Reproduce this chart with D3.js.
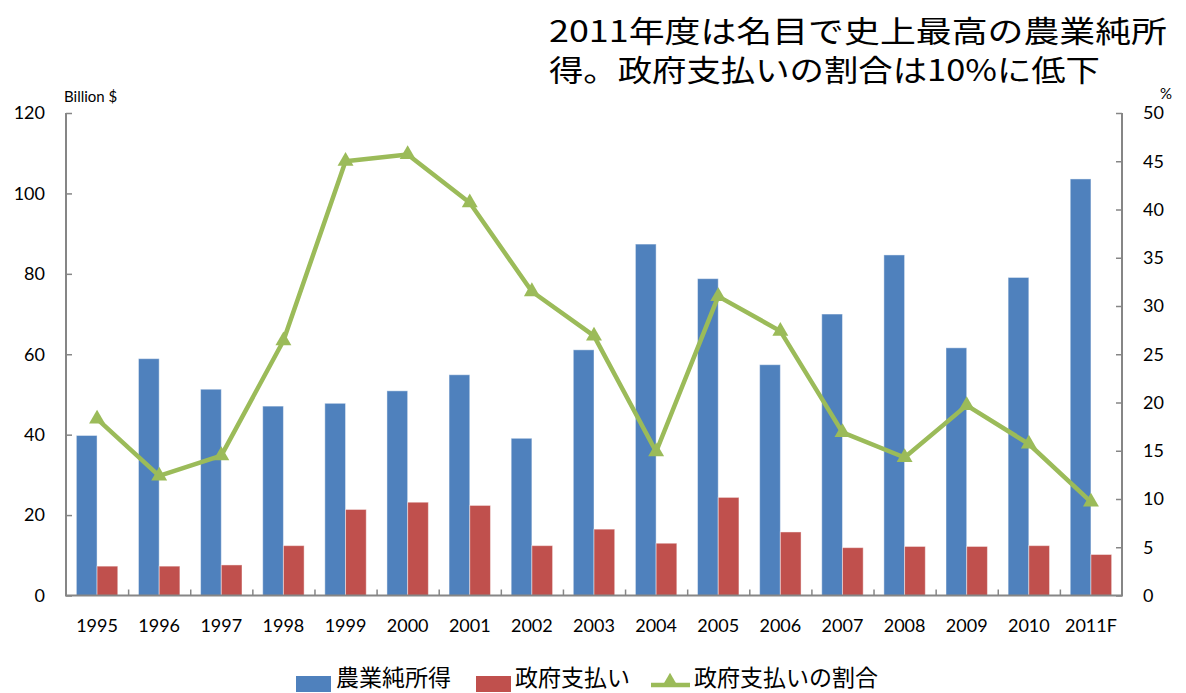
<!DOCTYPE html>
<html>
<head>
<meta charset="utf-8">
<script src="https://cdn.jsdelivr.net/npm/d3@7"></script>
<style>
  body { margin: 0; background: #fff; }
  text { font-family: Lato, "Noto Sans CJK JP", sans-serif; fill: #000; }
  .jp { font-family: "Noto Sans CJK JP", sans-serif; }
</style>
</head>
<body>
<script>
const width = 1186;
const height = 693;

// data
const years = ["1995", "1996", "1997", "1998", "1999", "2000", "2001", "2002", "2003",
  "2004", "2005", "2006", "2007", "2008", "2009", "2010", "2011F"];
const farmIncome = [39.8, 58.9, 51.3, 47.1, 47.8, 50.9, 54.9, 39.1, 61.1,
  87.4, 78.8, 57.4, 70.0, 84.7, 61.6, 79.1, 103.6];
const govPayments = [7.3, 7.3, 7.6, 12.4, 21.4, 23.2, 22.4, 12.4, 16.5,
  13.0, 24.4, 15.8, 11.9, 12.2, 12.2, 12.4, 10.2];
const paymentShare = [18.3, 12.4, 14.5, 26.4, 45.0, 45.7, 40.7, 31.5, 26.9,
  14.9, 31.0, 27.4, 16.9, 14.3, 19.7, 15.7, 9.7];
const leftTicks = [0, 20, 40, 60, 80, 100, 120];
const rightTicks = [0, 5, 10, 15, 20, 25, 30, 35, 40, 45, 50];
const seriesNames = ["農業純所得", "政府支払い", "政府支払いの割合"];
const titleLines = ["2011年度は名目で史上最高の農業純所", "得。政府支払いの割合は10%に低下"];
const colors = ["#4F81BD", "#C0504D", "#9BBB59"];

const plotLeft = 66, plotRight = 1122, plotTop = 113, plotBottom = 595.5;

let svg = d3
    .select("body")
    .append("svg")
    .attr("width", width)
    .attr("height", height)

const x = d3.scaleBand().domain(years).range([plotLeft, plotRight]).padding(0);
const sub = d3.scaleBand().domain([0, 1]).range([0, x.bandwidth()]).paddingOuter(0.5);
const yL = d3.scaleLinear().domain([0, 120]).range([plotBottom, plotTop]);
const yR = d3.scaleLinear().domain([0, 50]).range([plotBottom, plotTop]);

// bars
[farmIncome, govPayments].forEach((vals, s) => {
    svg.append("g")
        .selectAll("rect")
        .data(vals)
        .join("rect")
        .attr("x", (d, i) => x(years[i]) + sub(s))
        .attr("width", sub.bandwidth())
        .attr("y", d => yL(d))
        .attr("height", d => yL(0) - yL(d))
        .attr("fill", colors[s])
        .attr("stroke", "rgba(255,255,255,0.45)")
        .attr("stroke-width", 1)
})

// axes
const axisColor = "#868686";
const gL = svg.append("g").attr("transform", `translate(${plotLeft},0)`)
    .call(d3.axisRight(yL).tickValues(leftTicks).tickSize(6).tickFormat(""));
const gR = svg.append("g").attr("transform", `translate(${plotRight},0)`)
    .call(d3.axisLeft(yR).tickValues(rightTicks).tickSize(6).tickFormat(""));
const boundaries = years.map(y => x(y)).slice(1);
const gB = svg.append("g").attr("transform", `translate(0,${plotBottom})`)
    .call(d3.axisTop(d3.scaleLinear().domain([plotLeft, plotRight]).range([plotLeft, plotRight]))
        .tickValues(boundaries).tickSize(6).tickFormat(""));
[gL, gR, gB].forEach(g => {
    g.selectAll("path.domain").remove();
    g.selectAll("line").attr("stroke", axisColor).attr("stroke-width", 1.5);
});
svg.append("line").attr("x1", plotLeft).attr("x2", plotLeft).attr("y1", plotTop).attr("y2", plotBottom)
    .attr("stroke", axisColor).attr("stroke-width", 2);
svg.append("line").attr("x1", plotRight).attr("x2", plotRight).attr("y1", plotTop).attr("y2", plotBottom)
    .attr("stroke", axisColor).attr("stroke-width", 2);
svg.append("line").attr("x1", plotLeft - 1).attr("x2", plotRight + 1).attr("y1", plotBottom).attr("y2", plotBottom)
    .attr("stroke", axisColor).attr("stroke-width", 2);

// tick labels
svg.append("g").selectAll("text").data(leftTicks).join("text")
    .attr("x", 45).attr("y", d => yL(d)).attr("dy", "0.35em")
    .attr("text-anchor", "end").attr("font-size", 18).text(d => d);
svg.append("g").selectAll("text").data(rightTicks).join("text")
    .attr("x", 1143).attr("y", d => yR(d)).attr("dy", "0.35em")
    .attr("font-size", 18).text(d => d);
svg.append("g").selectAll("text").data(years).join("text")
    .attr("x", d => x(d) + x.bandwidth() / 2).attr("y", 632)
    .attr("text-anchor", "middle").attr("font-size", 18).text(d => d);

svg.append("text").attr("x", 64).attr("y", 102).attr("font-size", 15).text("Billion $");
svg.append("text").attr("x", 1160).attr("y", 99).attr("font-size", 15).text("%");

// share line
const line = d3.line().x((d, i) => x(years[i]) + x.bandwidth() / 2).y(d => yR(d));
svg.append("path").datum(paymentShare).attr("d", line)
    .attr("fill", "none").attr("stroke", colors[2]).attr("stroke-width", 4.5)
    .attr("stroke-linejoin", "round");
const tri = d3.symbol().type(d3.symbolTriangle).size(110);
svg.append("g").selectAll("path").data(paymentShare).join("path")
    .attr("transform", (d, i) => `translate(${x(years[i]) + x.bandwidth() / 2},${yR(d)})`)
    .attr("d", tri).attr("fill", colors[2]);

// title, two lines in one text element
const titleLen = [618, 551];
const titleText = svg.append("text").attr("class", "jp").attr("font-size", 30);
titleLines.forEach((t, i) => {
    titleText.append("tspan").attr("x", 549).attr("y", 42 + i * 39)
        .attr("textLength", titleLen[i]).attr("lengthAdjust", "spacingAndGlyphs")
        .text(t);
});

// legend
const legend = svg.append("g");
legend.append("rect").attr("x", 296).attr("y", 676).attr("width", 35).attr("height", 16).attr("fill", colors[0]);
legend.append("rect").attr("x", 476).attr("y", 676).attr("width", 35).attr("height", 16).attr("fill", colors[1]);
legend.append("line").attr("x1", 651).attr("x2", 690).attr("y1", 685).attr("y2", 685)
    .attr("stroke", colors[2]).attr("stroke-width", 4.5);
legend.append("path").attr("transform", "translate(670,682)").attr("d", tri).attr("fill", colors[2]);
const legTextX = [336, 515, 694];
seriesNames.forEach((n, i) => {
    legend.append("text").attr("class", "jp").attr("x", legTextX[i]).attr("y", 686)
        .attr("font-size", 23).text(n);
});
</script>
</body>
</html>
